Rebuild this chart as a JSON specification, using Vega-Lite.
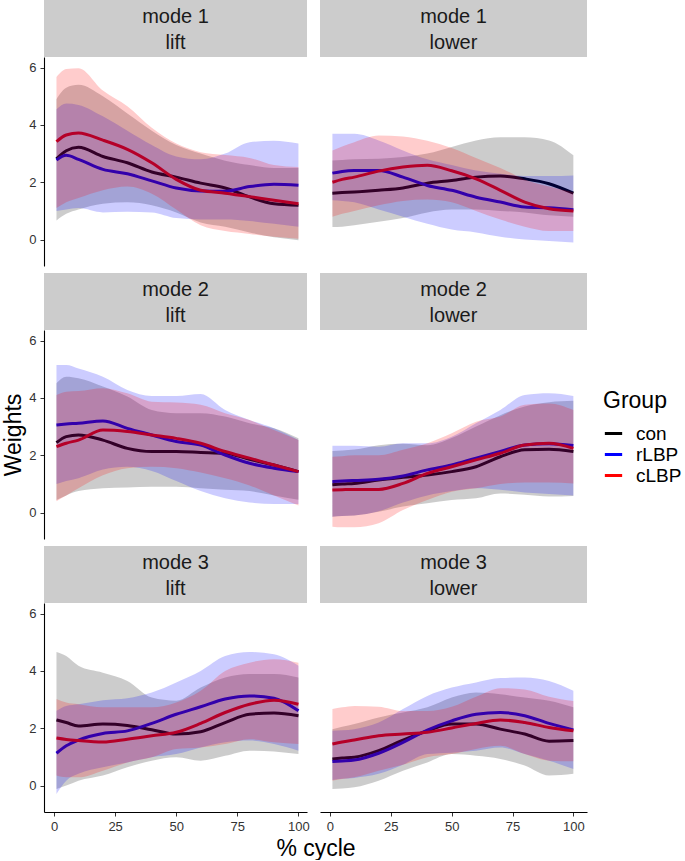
{
"$schema": "https://vega.github.io/schema/vega-lite/v6.json",
"padding": {"left": 2, "top": 0, "right": 0, "bottom": 0},
"config": {
  "font": "Liberation Sans",
  "view": {"stroke": null},
  "axis": {"grid": false, "domainColor": "#000000", "domainWidth": 1.1, "tickColor": "#333333", "labelColor": "#333333", "labelFontSize": 13, "tickSize": 4, "labelPadding": 4, "labelFlush": false, "titleFontSize": 23, "titleFontWeight": "normal", "titleColor": "#000000"},
  "legend": {"titleFontSize": 23, "titleFontWeight": "normal", "titleColor": "#000000", "labelFontSize": 19, "labelColor": "#000000", "symbolType": "stroke", "symbolStrokeWidth": 3, "symbolSize": 300, "rowPadding": -2, "titlePadding": 10, "labelOffset": 12}
},
"datasets": {"d": [
{"mode":1,"dir":"lift","Group":"con","x":1,"m":2.82,"lo":0.67,"hi":4.9},
{"mode":1,"dir":"lift","Group":"con","x":5,"m":3.1,"lo":0.9,"hi":5.3},
{"mode":1,"dir":"lift","Group":"con","x":10,"m":3.22,"lo":1.05,"hi":5.4},
{"mode":1,"dir":"lift","Group":"con","x":20,"m":2.9,"lo":1.25,"hi":5.0},
{"mode":1,"dir":"lift","Group":"con","x":30,"m":2.68,"lo":1.3,"hi":4.4},
{"mode":1,"dir":"lift","Group":"con","x":40,"m":2.36,"lo":1.2,"hi":3.8},
{"mode":1,"dir":"lift","Group":"con","x":50,"m":2.18,"lo":0.95,"hi":3.3},
{"mode":1,"dir":"lift","Group":"con","x":60,"m":1.97,"lo":0.6,"hi":3.0},
{"mode":1,"dir":"lift","Group":"con","x":70,"m":1.8,"lo":0.45,"hi":2.75},
{"mode":1,"dir":"lift","Group":"con","x":80,"m":1.49,"lo":0.25,"hi":2.6},
{"mode":1,"dir":"lift","Group":"con","x":90,"m":1.25,"lo":0.08,"hi":2.5},
{"mode":1,"dir":"lift","Group":"con","x":100,"m":1.2,"lo":-0.02,"hi":2.5},
{"mode":1,"dir":"lift","Group":"rLBP","x":1,"m":2.78,"lo":1.0,"hi":4.55},
{"mode":1,"dir":"lift","Group":"rLBP","x":5,"m":2.94,"lo":1.05,"hi":4.75},
{"mode":1,"dir":"lift","Group":"rLBP","x":10,"m":2.8,"lo":1.1,"hi":4.7},
{"mode":1,"dir":"lift","Group":"rLBP","x":20,"m":2.45,"lo":0.95,"hi":4.3},
{"mode":1,"dir":"lift","Group":"rLBP","x":30,"m":2.3,"lo":0.97,"hi":3.8},
{"mode":1,"dir":"lift","Group":"rLBP","x":40,"m":2.05,"lo":0.95,"hi":3.3},
{"mode":1,"dir":"lift","Group":"rLBP","x":50,"m":1.8,"lo":0.75,"hi":2.9},
{"mode":1,"dir":"lift","Group":"rLBP","x":60,"m":1.7,"lo":0.7,"hi":2.8},
{"mode":1,"dir":"lift","Group":"rLBP","x":70,"m":1.69,"lo":0.7,"hi":3.0},
{"mode":1,"dir":"lift","Group":"rLBP","x":80,"m":1.85,"lo":0.65,"hi":3.4},
{"mode":1,"dir":"lift","Group":"rLBP","x":90,"m":1.93,"lo":0.55,"hi":3.45},
{"mode":1,"dir":"lift","Group":"rLBP","x":100,"m":1.9,"lo":0.45,"hi":3.35},
{"mode":1,"dir":"lift","Group":"cLBP","x":1,"m":3.42,"lo":1.1,"hi":5.67},
{"mode":1,"dir":"lift","Group":"cLBP","x":5,"m":3.65,"lo":1.3,"hi":5.95},
{"mode":1,"dir":"lift","Group":"cLBP","x":10,"m":3.72,"lo":1.45,"hi":5.98},
{"mode":1,"dir":"lift","Group":"cLBP","x":20,"m":3.47,"lo":1.72,"hi":5.2},
{"mode":1,"dir":"lift","Group":"cLBP","x":30,"m":3.15,"lo":1.85,"hi":4.65},
{"mode":1,"dir":"lift","Group":"cLBP","x":40,"m":2.68,"lo":1.6,"hi":3.9},
{"mode":1,"dir":"lift","Group":"cLBP","x":50,"m":2.1,"lo":1.05,"hi":3.35},
{"mode":1,"dir":"lift","Group":"cLBP","x":60,"m":1.72,"lo":0.5,"hi":3.05},
{"mode":1,"dir":"lift","Group":"cLBP","x":70,"m":1.62,"lo":0.3,"hi":2.95},
{"mode":1,"dir":"lift","Group":"cLBP","x":80,"m":1.5,"lo":0.2,"hi":2.85},
{"mode":1,"dir":"lift","Group":"cLBP","x":90,"m":1.37,"lo":0.1,"hi":2.6},
{"mode":1,"dir":"lift","Group":"cLBP","x":100,"m":1.25,"lo":0.03,"hi":2.53},
{"mode":1,"dir":"lower","Group":"con","x":1,"m":1.62,"lo":0.44,"hi":2.76},
{"mode":1,"dir":"lower","Group":"con","x":5,"m":1.64,"lo":0.45,"hi":2.78},
{"mode":1,"dir":"lower","Group":"con","x":10,"m":1.66,"lo":0.5,"hi":2.8},
{"mode":1,"dir":"lower","Group":"con","x":20,"m":1.72,"lo":0.62,"hi":2.82},
{"mode":1,"dir":"lower","Group":"con","x":30,"m":1.8,"lo":0.75,"hi":2.88},
{"mode":1,"dir":"lower","Group":"con","x":40,"m":1.97,"lo":0.95,"hi":3.0},
{"mode":1,"dir":"lower","Group":"con","x":50,"m":2.06,"lo":1.05,"hi":3.23},
{"mode":1,"dir":"lower","Group":"con","x":60,"m":2.18,"lo":1.05,"hi":3.46},
{"mode":1,"dir":"lower","Group":"con","x":70,"m":2.22,"lo":1.0,"hi":3.57},
{"mode":1,"dir":"lower","Group":"con","x":80,"m":2.12,"lo":0.95,"hi":3.57},
{"mode":1,"dir":"lower","Group":"con","x":90,"m":1.95,"lo":0.85,"hi":3.46},
{"mode":1,"dir":"lower","Group":"con","x":100,"m":1.62,"lo":0.8,"hi":2.94},
{"mode":1,"dir":"lower","Group":"rLBP","x":1,"m":2.32,"lo":1.37,"hi":3.69},
{"mode":1,"dir":"lower","Group":"rLBP","x":5,"m":2.38,"lo":1.35,"hi":3.69},
{"mode":1,"dir":"lower","Group":"rLBP","x":10,"m":2.41,"lo":1.3,"hi":3.69},
{"mode":1,"dir":"lower","Group":"rLBP","x":20,"m":2.41,"lo":1.05,"hi":3.46},
{"mode":1,"dir":"lower","Group":"rLBP","x":30,"m":2.18,"lo":0.8,"hi":3.11},
{"mode":1,"dir":"lower","Group":"rLBP","x":40,"m":1.89,"lo":0.55,"hi":2.8},
{"mode":1,"dir":"lower","Group":"rLBP","x":50,"m":1.72,"lo":0.35,"hi":2.6},
{"mode":1,"dir":"lower","Group":"rLBP","x":60,"m":1.48,"lo":0.25,"hi":2.41},
{"mode":1,"dir":"lower","Group":"rLBP","x":70,"m":1.31,"lo":0.1,"hi":2.3},
{"mode":1,"dir":"lower","Group":"rLBP","x":80,"m":1.14,"lo":0.0,"hi":2.22},
{"mode":1,"dir":"lower","Group":"rLBP","x":90,"m":1.11,"lo":-0.05,"hi":2.22},
{"mode":1,"dir":"lower","Group":"rLBP","x":100,"m":1.04,"lo":-0.1,"hi":2.24},
{"mode":1,"dir":"lower","Group":"cLBP","x":1,"m":2.0,"lo":0.8,"hi":3.11},
{"mode":1,"dir":"lower","Group":"cLBP","x":5,"m":2.1,"lo":0.9,"hi":3.25},
{"mode":1,"dir":"lower","Group":"cLBP","x":10,"m":2.18,"lo":1.0,"hi":3.4},
{"mode":1,"dir":"lower","Group":"cLBP","x":20,"m":2.39,"lo":1.2,"hi":3.63},
{"mode":1,"dir":"lower","Group":"cLBP","x":30,"m":2.53,"lo":1.35,"hi":3.6},
{"mode":1,"dir":"lower","Group":"cLBP","x":40,"m":2.59,"lo":1.4,"hi":3.45},
{"mode":1,"dir":"lower","Group":"cLBP","x":50,"m":2.4,"lo":1.3,"hi":3.2},
{"mode":1,"dir":"lower","Group":"cLBP","x":60,"m":2.12,"lo":1.0,"hi":2.85},
{"mode":1,"dir":"lower","Group":"cLBP","x":70,"m":1.72,"lo":0.7,"hi":2.5},
{"mode":1,"dir":"lower","Group":"cLBP","x":80,"m":1.31,"lo":0.45,"hi":2.1},
{"mode":1,"dir":"lower","Group":"cLBP","x":90,"m":1.08,"lo":0.3,"hi":1.85},
{"mode":1,"dir":"lower","Group":"cLBP","x":100,"m":1.0,"lo":0.3,"hi":1.65},
{"mode":2,"dir":"lift","Group":"con","x":1,"m":2.44,"lo":0.44,"hi":4.51},
{"mode":2,"dir":"lift","Group":"con","x":5,"m":2.65,"lo":0.6,"hi":4.74},
{"mode":2,"dir":"lift","Group":"con","x":10,"m":2.71,"lo":0.75,"hi":4.69},
{"mode":2,"dir":"lift","Group":"con","x":20,"m":2.53,"lo":0.85,"hi":4.4},
{"mode":2,"dir":"lift","Group":"con","x":30,"m":2.24,"lo":0.88,"hi":4.05},
{"mode":2,"dir":"lift","Group":"con","x":40,"m":2.13,"lo":0.9,"hi":3.58},
{"mode":2,"dir":"lift","Group":"con","x":50,"m":2.13,"lo":0.9,"hi":3.47},
{"mode":2,"dir":"lift","Group":"con","x":60,"m":2.1,"lo":0.85,"hi":3.47},
{"mode":2,"dir":"lift","Group":"con","x":70,"m":2.07,"lo":0.8,"hi":3.35},
{"mode":2,"dir":"lift","Group":"con","x":80,"m":1.86,"lo":0.75,"hi":3.12},
{"mode":2,"dir":"lift","Group":"con","x":90,"m":1.66,"lo":0.6,"hi":2.94},
{"mode":2,"dir":"lift","Group":"con","x":100,"m":1.43,"lo":0.45,"hi":2.59},
{"mode":2,"dir":"lift","Group":"rLBP","x":1,"m":3.06,"lo":1.0,"hi":5.15},
{"mode":2,"dir":"lift","Group":"rLBP","x":5,"m":3.09,"lo":1.1,"hi":5.15},
{"mode":2,"dir":"lift","Group":"rLBP","x":10,"m":3.12,"lo":1.2,"hi":5.03},
{"mode":2,"dir":"lift","Group":"rLBP","x":20,"m":3.2,"lo":1.5,"hi":4.74},
{"mode":2,"dir":"lift","Group":"rLBP","x":30,"m":2.94,"lo":1.6,"hi":4.28},
{"mode":2,"dir":"lift","Group":"rLBP","x":40,"m":2.71,"lo":1.45,"hi":4.07},
{"mode":2,"dir":"lift","Group":"rLBP","x":50,"m":2.48,"lo":1.1,"hi":4.07},
{"mode":2,"dir":"lift","Group":"rLBP","x":60,"m":2.36,"lo":0.75,"hi":4.14},
{"mode":2,"dir":"lift","Group":"rLBP","x":70,"m":2.01,"lo":0.5,"hi":3.58},
{"mode":2,"dir":"lift","Group":"rLBP","x":80,"m":1.72,"lo":0.35,"hi":3.23},
{"mode":2,"dir":"lift","Group":"rLBP","x":90,"m":1.55,"lo":0.3,"hi":2.94},
{"mode":2,"dir":"lift","Group":"rLBP","x":100,"m":1.43,"lo":0.3,"hi":2.53},
{"mode":2,"dir":"lift","Group":"cLBP","x":1,"m":2.3,"lo":0.4,"hi":4.1},
{"mode":2,"dir":"lift","Group":"cLBP","x":5,"m":2.42,"lo":0.6,"hi":4.22},
{"mode":2,"dir":"lift","Group":"cLBP","x":10,"m":2.53,"lo":0.85,"hi":4.24},
{"mode":2,"dir":"lift","Group":"cLBP","x":20,"m":2.88,"lo":1.3,"hi":4.34},
{"mode":2,"dir":"lift","Group":"cLBP","x":30,"m":2.83,"lo":1.55,"hi":4.16},
{"mode":2,"dir":"lift","Group":"cLBP","x":40,"m":2.71,"lo":1.6,"hi":3.87},
{"mode":2,"dir":"lift","Group":"cLBP","x":50,"m":2.59,"lo":1.55,"hi":3.84},
{"mode":2,"dir":"lift","Group":"cLBP","x":60,"m":2.42,"lo":1.4,"hi":3.76},
{"mode":2,"dir":"lift","Group":"cLBP","x":70,"m":2.13,"lo":1.2,"hi":3.47},
{"mode":2,"dir":"lift","Group":"cLBP","x":80,"m":1.9,"lo":0.95,"hi":3.23},
{"mode":2,"dir":"lift","Group":"cLBP","x":90,"m":1.66,"lo":0.6,"hi":2.88},
{"mode":2,"dir":"lift","Group":"cLBP","x":100,"m":1.43,"lo":0.25,"hi":2.53},
{"mode":2,"dir":"lower","Group":"con","x":1,"m":0.97,"lo":-0.14,"hi":2.15},
{"mode":2,"dir":"lower","Group":"con","x":5,"m":1.0,"lo":-0.12,"hi":2.17},
{"mode":2,"dir":"lower","Group":"con","x":10,"m":1.02,"lo":-0.1,"hi":2.2},
{"mode":2,"dir":"lower","Group":"con","x":20,"m":1.14,"lo":0.03,"hi":2.35},
{"mode":2,"dir":"lower","Group":"con","x":30,"m":1.23,"lo":0.21,"hi":2.4},
{"mode":2,"dir":"lower","Group":"con","x":40,"m":1.31,"lo":0.33,"hi":2.35},
{"mode":2,"dir":"lower","Group":"con","x":50,"m":1.43,"lo":0.44,"hi":2.6},
{"mode":2,"dir":"lower","Group":"con","x":60,"m":1.6,"lo":0.5,"hi":3.0},
{"mode":2,"dir":"lower","Group":"con","x":70,"m":1.95,"lo":0.67,"hi":3.4},
{"mode":2,"dir":"lower","Group":"con","x":80,"m":2.19,"lo":0.62,"hi":3.7},
{"mode":2,"dir":"lower","Group":"con","x":90,"m":2.21,"lo":0.56,"hi":3.85},
{"mode":2,"dir":"lower","Group":"con","x":100,"m":2.13,"lo":0.58,"hi":3.9},
{"mode":2,"dir":"lower","Group":"rLBP","x":1,"m":1.08,"lo":-0.14,"hi":2.33},
{"mode":2,"dir":"lower","Group":"rLBP","x":5,"m":1.1,"lo":-0.12,"hi":2.33},
{"mode":2,"dir":"lower","Group":"rLBP","x":10,"m":1.12,"lo":-0.1,"hi":2.33},
{"mode":2,"dir":"lower","Group":"rLBP","x":20,"m":1.16,"lo":0.05,"hi":2.3},
{"mode":2,"dir":"lower","Group":"rLBP","x":30,"m":1.28,"lo":0.35,"hi":2.42},
{"mode":2,"dir":"lower","Group":"rLBP","x":40,"m":1.49,"lo":0.6,"hi":2.42},
{"mode":2,"dir":"lower","Group":"rLBP","x":50,"m":1.66,"lo":0.75,"hi":2.65},
{"mode":2,"dir":"lower","Group":"rLBP","x":60,"m":1.9,"lo":0.85,"hi":3.12},
{"mode":2,"dir":"lower","Group":"rLBP","x":70,"m":2.13,"lo":0.8,"hi":3.58},
{"mode":2,"dir":"lower","Group":"rLBP","x":80,"m":2.36,"lo":0.7,"hi":4.1},
{"mode":2,"dir":"lower","Group":"rLBP","x":90,"m":2.4,"lo":0.65,"hi":4.16},
{"mode":2,"dir":"lower","Group":"rLBP","x":100,"m":2.34,"lo":0.6,"hi":4.07},
{"mode":2,"dir":"lower","Group":"cLBP","x":1,"m":0.79,"lo":-0.49,"hi":1.95},
{"mode":2,"dir":"lower","Group":"cLBP","x":5,"m":0.8,"lo":-0.51,"hi":1.97},
{"mode":2,"dir":"lower","Group":"cLBP","x":10,"m":0.81,"lo":-0.51,"hi":2.0},
{"mode":2,"dir":"lower","Group":"cLBP","x":20,"m":0.81,"lo":-0.37,"hi":2.0},
{"mode":2,"dir":"lower","Group":"cLBP","x":30,"m":1.02,"lo":0.09,"hi":2.19},
{"mode":2,"dir":"lower","Group":"cLBP","x":40,"m":1.37,"lo":0.44,"hi":2.42},
{"mode":2,"dir":"lower","Group":"cLBP","x":50,"m":1.6,"lo":0.73,"hi":2.77},
{"mode":2,"dir":"lower","Group":"cLBP","x":60,"m":1.84,"lo":0.85,"hi":3.17},
{"mode":2,"dir":"lower","Group":"cLBP","x":70,"m":2.07,"lo":1.0,"hi":3.35},
{"mode":2,"dir":"lower","Group":"cLBP","x":80,"m":2.36,"lo":1.05,"hi":3.76},
{"mode":2,"dir":"lower","Group":"cLBP","x":90,"m":2.42,"lo":1.05,"hi":3.81},
{"mode":2,"dir":"lower","Group":"cLBP","x":100,"m":2.24,"lo":1.02,"hi":3.58},
{"mode":3,"dir":"lift","Group":"con","x":1,"m":2.29,"lo":-0.12,"hi":4.66},
{"mode":3,"dir":"lift","Group":"con","x":5,"m":2.2,"lo":0.0,"hi":4.52},
{"mode":3,"dir":"lift","Group":"con","x":10,"m":2.08,"lo":0.17,"hi":4.18},
{"mode":3,"dir":"lift","Group":"con","x":20,"m":2.15,"lo":0.35,"hi":3.94},
{"mode":3,"dir":"lift","Group":"con","x":30,"m":2.1,"lo":0.64,"hi":3.65},
{"mode":3,"dir":"lift","Group":"con","x":40,"m":1.95,"lo":0.87,"hi":3.07},
{"mode":3,"dir":"lift","Group":"con","x":50,"m":1.8,"lo":0.99,"hi":2.96},
{"mode":3,"dir":"lift","Group":"con","x":60,"m":1.88,"lo":0.87,"hi":3.42},
{"mode":3,"dir":"lift","Group":"con","x":70,"m":2.2,"lo":1.04,"hi":3.77},
{"mode":3,"dir":"lift","Group":"con","x":80,"m":2.49,"lo":1.22,"hi":3.89},
{"mode":3,"dir":"lift","Group":"con","x":90,"m":2.53,"lo":1.19,"hi":3.89},
{"mode":3,"dir":"lift","Group":"con","x":100,"m":2.44,"lo":1.1,"hi":3.77},
{"mode":3,"dir":"lift","Group":"rLBP","x":1,"m":1.13,"lo":-0.29,"hi":2.61},
{"mode":3,"dir":"lift","Group":"rLBP","x":5,"m":1.39,"lo":0.17,"hi":2.78},
{"mode":3,"dir":"lift","Group":"rLBP","x":10,"m":1.59,"lo":0.41,"hi":2.84},
{"mode":3,"dir":"lift","Group":"rLBP","x":20,"m":1.82,"lo":0.64,"hi":2.98},
{"mode":3,"dir":"lift","Group":"rLBP","x":30,"m":1.91,"lo":0.81,"hi":3.05},
{"mode":3,"dir":"lift","Group":"rLBP","x":40,"m":2.17,"lo":0.99,"hi":3.25},
{"mode":3,"dir":"lift","Group":"rLBP","x":50,"m":2.49,"lo":1.1,"hi":3.6},
{"mode":3,"dir":"lift","Group":"rLBP","x":60,"m":2.75,"lo":1.33,"hi":4.0},
{"mode":3,"dir":"lift","Group":"rLBP","x":70,"m":3.02,"lo":1.51,"hi":4.52},
{"mode":3,"dir":"lift","Group":"rLBP","x":80,"m":3.13,"lo":1.57,"hi":4.66},
{"mode":3,"dir":"lift","Group":"rLBP","x":90,"m":3.05,"lo":1.45,"hi":4.58},
{"mode":3,"dir":"lift","Group":"rLBP","x":100,"m":2.61,"lo":1.22,"hi":4.18},
{"mode":3,"dir":"lift","Group":"cLBP","x":1,"m":1.66,"lo":0.35,"hi":3.02},
{"mode":3,"dir":"lift","Group":"cLBP","x":5,"m":1.61,"lo":0.29,"hi":2.9},
{"mode":3,"dir":"lift","Group":"cLBP","x":10,"m":1.57,"lo":0.29,"hi":2.84},
{"mode":3,"dir":"lift","Group":"cLBP","x":20,"m":1.52,"lo":0.52,"hi":2.73},
{"mode":3,"dir":"lift","Group":"cLBP","x":30,"m":1.62,"lo":0.81,"hi":2.73},
{"mode":3,"dir":"lift","Group":"cLBP","x":40,"m":1.74,"lo":0.99,"hi":2.73},
{"mode":3,"dir":"lift","Group":"cLBP","x":50,"m":1.86,"lo":1.28,"hi":2.9},
{"mode":3,"dir":"lift","Group":"cLBP","x":60,"m":2.17,"lo":1.33,"hi":3.31},
{"mode":3,"dir":"lift","Group":"cLBP","x":70,"m":2.55,"lo":1.45,"hi":4.0},
{"mode":3,"dir":"lift","Group":"cLBP","x":80,"m":2.84,"lo":1.62,"hi":4.29},
{"mode":3,"dir":"lift","Group":"cLBP","x":90,"m":2.98,"lo":1.51,"hi":4.41},
{"mode":3,"dir":"lift","Group":"cLBP","x":100,"m":2.84,"lo":1.45,"hi":4.29},
{"mode":3,"dir":"lower","Group":"con","x":1,"m":0.93,"lo":-0.12,"hi":1.97},
{"mode":3,"dir":"lower","Group":"con","x":5,"m":0.96,"lo":-0.1,"hi":2.05},
{"mode":3,"dir":"lower","Group":"con","x":10,"m":0.99,"lo":-0.06,"hi":2.15},
{"mode":3,"dir":"lower","Group":"con","x":20,"m":1.22,"lo":0.17,"hi":2.38},
{"mode":3,"dir":"lower","Group":"con","x":30,"m":1.59,"lo":0.52,"hi":2.55},
{"mode":3,"dir":"lower","Group":"con","x":40,"m":1.91,"lo":0.81,"hi":2.73},
{"mode":3,"dir":"lower","Group":"con","x":50,"m":2.15,"lo":1.1,"hi":3.07},
{"mode":3,"dir":"lower","Group":"con","x":60,"m":2.15,"lo":1.04,"hi":3.25},
{"mode":3,"dir":"lower","Group":"con","x":70,"m":1.97,"lo":0.93,"hi":3.19},
{"mode":3,"dir":"lower","Group":"con","x":80,"m":1.8,"lo":0.7,"hi":3.07},
{"mode":3,"dir":"lower","Group":"con","x":90,"m":1.55,"lo":0.35,"hi":2.96},
{"mode":3,"dir":"lower","Group":"con","x":100,"m":1.57,"lo":0.41,"hi":2.73},
{"mode":3,"dir":"lower","Group":"rLBP","x":1,"m":0.84,"lo":0.2,"hi":1.91},
{"mode":3,"dir":"lower","Group":"rLBP","x":5,"m":0.86,"lo":0.24,"hi":1.93},
{"mode":3,"dir":"lower","Group":"rLBP","x":10,"m":0.89,"lo":0.27,"hi":1.97},
{"mode":3,"dir":"lower","Group":"rLBP","x":20,"m":1.13,"lo":0.41,"hi":2.2},
{"mode":3,"dir":"lower","Group":"rLBP","x":30,"m":1.51,"lo":0.73,"hi":2.67},
{"mode":3,"dir":"lower","Group":"rLBP","x":40,"m":1.94,"lo":1.1,"hi":3.13},
{"mode":3,"dir":"lower","Group":"rLBP","x":50,"m":2.26,"lo":1.15,"hi":3.42},
{"mode":3,"dir":"lower","Group":"rLBP","x":60,"m":2.49,"lo":1.22,"hi":3.6},
{"mode":3,"dir":"lower","Group":"rLBP","x":70,"m":2.55,"lo":1.33,"hi":3.75},
{"mode":3,"dir":"lower","Group":"rLBP","x":80,"m":2.44,"lo":1.1,"hi":3.77},
{"mode":3,"dir":"lower","Group":"rLBP","x":90,"m":2.17,"lo":0.87,"hi":3.65},
{"mode":3,"dir":"lower","Group":"rLBP","x":100,"m":1.94,"lo":0.58,"hi":3.31},
{"mode":3,"dir":"lower","Group":"cLBP","x":1,"m":1.45,"lo":0.17,"hi":2.67},
{"mode":3,"dir":"lower","Group":"cLBP","x":5,"m":1.52,"lo":0.23,"hi":2.73},
{"mode":3,"dir":"lower","Group":"cLBP","x":10,"m":1.59,"lo":0.29,"hi":2.78},
{"mode":3,"dir":"lower","Group":"cLBP","x":20,"m":1.74,"lo":0.52,"hi":2.75},
{"mode":3,"dir":"lower","Group":"cLBP","x":30,"m":1.8,"lo":0.73,"hi":2.6},
{"mode":3,"dir":"lower","Group":"cLBP","x":40,"m":1.86,"lo":0.99,"hi":2.6},
{"mode":3,"dir":"lower","Group":"cLBP","x":50,"m":2.01,"lo":1.1,"hi":2.75},
{"mode":3,"dir":"lower","Group":"cLBP","x":60,"m":2.17,"lo":1.28,"hi":3.1},
{"mode":3,"dir":"lower","Group":"cLBP","x":70,"m":2.29,"lo":1.39,"hi":3.4},
{"mode":3,"dir":"lower","Group":"cLBP","x":80,"m":2.2,"lo":1.1,"hi":3.35},
{"mode":3,"dir":"lower","Group":"cLBP","x":90,"m":2.03,"lo":0.87,"hi":3.1},
{"mode":3,"dir":"lower","Group":"cLBP","x":100,"m":1.91,"lo":0.85,"hi":2.95}
]},
"bounds": "flush",
"columns": 2,
"spacing": {"row": 0, "column": 13},
"concat": [
 {"width": 263, "height": 57, "view": {"fill": "#cccccc", "stroke": null}, "data": {"values": [{"t": "mode 1\nlift"}]}, "mark": {"type": "text", "lineBreak": "\n", "fontSize": 20, "lineHeight": 26, "dy": -12, "color": "#1a1a1a"}, "encoding": {"text": {"field": "t"}}},
 {"width": 267, "height": 57, "view": {"fill": "#cccccc", "stroke": null}, "data": {"values": [{"t": "mode 1\nlower"}]}, "mark": {"type": "text", "lineBreak": "\n", "fontSize": 20, "lineHeight": 26, "dy": -12, "color": "#1a1a1a"}, "encoding": {"text": {"field": "t"}}},
 {"width": 263, "height": 216, "data": {"name": "d"}, "transform": [{"filter": "datum.mode == 1 && datum.dir == 'lift'"}],
  "encoding": {"x": {"field": "x", "type": "quantitative", "scale": {"domain": [-4.1, 103.5], "nice": false, "zero": false}, "axis": null}},
  "layer": [
   {"mark": {"type": "line", "strokeWidth": 3, "interpolate": "monotone"}, "encoding": {"y": {"field": "m", "type": "quantitative", "scale": {"domain": [-0.92, 6.37], "range": [209, 0], "nice": false, "zero": false}, "axis": {"values": [0, 2, 4, 6], "title": null}}, "color": {"field": "Group", "type": "nominal", "scale": {"domain": ["con", "rLBP", "cLBP"], "range": ["#000000", "#0000ff", "#ff0000"]}, "legend": {"title": "Group", "orient": "none", "legendX": 559, "legendY": 390}}}},
   {"mark": {"type": "area", "opacity": 0.2, "interpolate": "monotone"}, "encoding": {"y": {"field": "lo", "type": "quantitative", "scale": {"domain": [-0.92, 6.37], "range": [209, 0], "nice": false, "zero": false}, "axis": {"values": [0, 2, 4, 6], "title": null}}, "y2": {"field": "hi"}, "color": {"field": "Group", "type": "nominal", "legend": null}}}
  ]},
 {"width": 267, "height": 216, "data": {"name": "d"}, "transform": [{"filter": "datum.mode == 1 && datum.dir == 'lower'"}],
  "encoding": {"x": {"field": "x", "type": "quantitative", "scale": {"domain": [-4.1, 105.6], "nice": false, "zero": false}, "axis": null}},
  "layer": [
   {"mark": {"type": "line", "strokeWidth": 3, "interpolate": "monotone"}, "encoding": {"y": {"field": "m", "type": "quantitative", "scale": {"domain": [-0.92, 6.37], "range": [209, 0], "nice": false, "zero": false}, "axis": null}, "color": {"field": "Group", "type": "nominal", "scale": {"domain": ["con", "rLBP", "cLBP"], "range": ["#000000", "#0000ff", "#ff0000"]}, "legend": {"title": "Group", "orient": "none", "legendX": 559, "legendY": 390}}}},
   {"mark": {"type": "area", "opacity": 0.2, "interpolate": "monotone"}, "encoding": {"y": {"field": "lo", "type": "quantitative", "scale": {"domain": [-0.92, 6.37], "range": [209, 0], "nice": false, "zero": false}, "axis": null}, "y2": {"field": "hi"}, "color": {"field": "Group", "type": "nominal", "legend": null}}}
  ]},
 {"width": 263, "height": 57, "view": {"fill": "#cccccc", "stroke": null}, "data": {"values": [{"t": "mode 2\nlift"}]}, "mark": {"type": "text", "lineBreak": "\n", "fontSize": 20, "lineHeight": 26, "dy": -12, "color": "#1a1a1a"}, "encoding": {"text": {"field": "t"}}},
 {"width": 267, "height": 57, "view": {"fill": "#cccccc", "stroke": null}, "data": {"values": [{"t": "mode 2\nlower"}]}, "mark": {"type": "text", "lineBreak": "\n", "fontSize": 20, "lineHeight": 26, "dy": -12, "color": "#1a1a1a"}, "encoding": {"text": {"field": "t"}}},
 {"width": 263, "height": 216, "data": {"name": "d"}, "transform": [{"filter": "datum.mode == 2 && datum.dir == 'lift'"}],
  "encoding": {"x": {"field": "x", "type": "quantitative", "scale": {"domain": [-4.1, 103.5], "nice": false, "zero": false}, "axis": null}},
  "layer": [
   {"mark": {"type": "line", "strokeWidth": 3, "interpolate": "monotone"}, "encoding": {"y": {"field": "m", "type": "quantitative", "scale": {"domain": [-0.92, 6.37], "range": [209, 0], "nice": false, "zero": false}, "axis": {"values": [0, 2, 4, 6], "title": "Weights", "titlePadding": 3}}, "color": {"field": "Group", "type": "nominal", "scale": {"domain": ["con", "rLBP", "cLBP"], "range": ["#000000", "#0000ff", "#ff0000"]}, "legend": {"title": "Group", "orient": "none", "legendX": 559, "legendY": 390}}}},
   {"mark": {"type": "area", "opacity": 0.2, "interpolate": "monotone"}, "encoding": {"y": {"field": "lo", "type": "quantitative", "scale": {"domain": [-0.92, 6.37], "range": [209, 0], "nice": false, "zero": false}, "axis": {"values": [0, 2, 4, 6], "title": "Weights", "titlePadding": 3}}, "y2": {"field": "hi"}, "color": {"field": "Group", "type": "nominal", "legend": null}}}
  ]},
 {"width": 267, "height": 216, "data": {"name": "d"}, "transform": [{"filter": "datum.mode == 2 && datum.dir == 'lower'"}],
  "encoding": {"x": {"field": "x", "type": "quantitative", "scale": {"domain": [-4.1, 105.6], "nice": false, "zero": false}, "axis": null}},
  "layer": [
   {"mark": {"type": "line", "strokeWidth": 3, "interpolate": "monotone"}, "encoding": {"y": {"field": "m", "type": "quantitative", "scale": {"domain": [-0.92, 6.37], "range": [209, 0], "nice": false, "zero": false}, "axis": null}, "color": {"field": "Group", "type": "nominal", "scale": {"domain": ["con", "rLBP", "cLBP"], "range": ["#000000", "#0000ff", "#ff0000"]}, "legend": {"title": "Group", "orient": "none", "legendX": 559, "legendY": 390}}}},
   {"mark": {"type": "area", "opacity": 0.2, "interpolate": "monotone"}, "encoding": {"y": {"field": "lo", "type": "quantitative", "scale": {"domain": [-0.92, 6.37], "range": [209, 0], "nice": false, "zero": false}, "axis": null}, "y2": {"field": "hi"}, "color": {"field": "Group", "type": "nominal", "legend": null}}}
  ]},
 {"width": 263, "height": 57, "view": {"fill": "#cccccc", "stroke": null}, "data": {"values": [{"t": "mode 3\nlift"}]}, "mark": {"type": "text", "lineBreak": "\n", "fontSize": 20, "lineHeight": 26, "dy": -12, "color": "#1a1a1a"}, "encoding": {"text": {"field": "t"}}},
 {"width": 267, "height": 57, "view": {"fill": "#cccccc", "stroke": null}, "data": {"values": [{"t": "mode 3\nlower"}]}, "mark": {"type": "text", "lineBreak": "\n", "fontSize": 20, "lineHeight": 26, "dy": -12, "color": "#1a1a1a"}, "encoding": {"text": {"field": "t"}}},
 {"width": 263, "height": 209, "data": {"name": "d"}, "transform": [{"filter": "datum.mode == 3 && datum.dir == 'lift'"}],
  "encoding": {"x": {"field": "x", "type": "quantitative", "scale": {"domain": [-4.1, 103.5], "nice": false, "zero": false}, "axis": {"values": [0, 25, 50, 75, 100], "title": "% cycle", "titleX": 271.5, "titleY": 43, "titleBaseline": "alphabetic"}}},
  "layer": [
   {"mark": {"type": "line", "strokeWidth": 3, "interpolate": "monotone"}, "encoding": {"y": {"field": "m", "type": "quantitative", "scale": {"domain": [-0.92, 6.37], "nice": false, "zero": false}, "axis": {"values": [0, 2, 4, 6], "title": null}}, "color": {"field": "Group", "type": "nominal", "scale": {"domain": ["con", "rLBP", "cLBP"], "range": ["#000000", "#0000ff", "#ff0000"]}, "legend": {"title": "Group", "orient": "none", "legendX": 559, "legendY": 390}}}},
   {"mark": {"type": "area", "opacity": 0.2, "interpolate": "monotone"}, "encoding": {"y": {"field": "lo", "type": "quantitative", "scale": {"domain": [-0.92, 6.37], "nice": false, "zero": false}, "axis": {"values": [0, 2, 4, 6], "title": null}}, "y2": {"field": "hi"}, "color": {"field": "Group", "type": "nominal", "legend": null}}}
  ]},
 {"width": 267, "height": 209, "data": {"name": "d"}, "transform": [{"filter": "datum.mode == 3 && datum.dir == 'lower'"}],
  "encoding": {"x": {"field": "x", "type": "quantitative", "scale": {"domain": [-4.1, 105.6], "nice": false, "zero": false}, "axis": {"values": [0, 25, 50, 75, 100], "title": null}}},
  "layer": [
   {"mark": {"type": "line", "strokeWidth": 3, "interpolate": "monotone"}, "encoding": {"y": {"field": "m", "type": "quantitative", "scale": {"domain": [-0.92, 6.37], "nice": false, "zero": false}, "axis": null}, "color": {"field": "Group", "type": "nominal", "scale": {"domain": ["con", "rLBP", "cLBP"], "range": ["#000000", "#0000ff", "#ff0000"]}, "legend": {"title": "Group", "orient": "none", "legendX": 559, "legendY": 390}}}},
   {"mark": {"type": "area", "opacity": 0.2, "interpolate": "monotone"}, "encoding": {"y": {"field": "lo", "type": "quantitative", "scale": {"domain": [-0.92, 6.37], "nice": false, "zero": false}, "axis": null}, "y2": {"field": "hi"}, "color": {"field": "Group", "type": "nominal", "legend": null}}}
  ]}
]
}
